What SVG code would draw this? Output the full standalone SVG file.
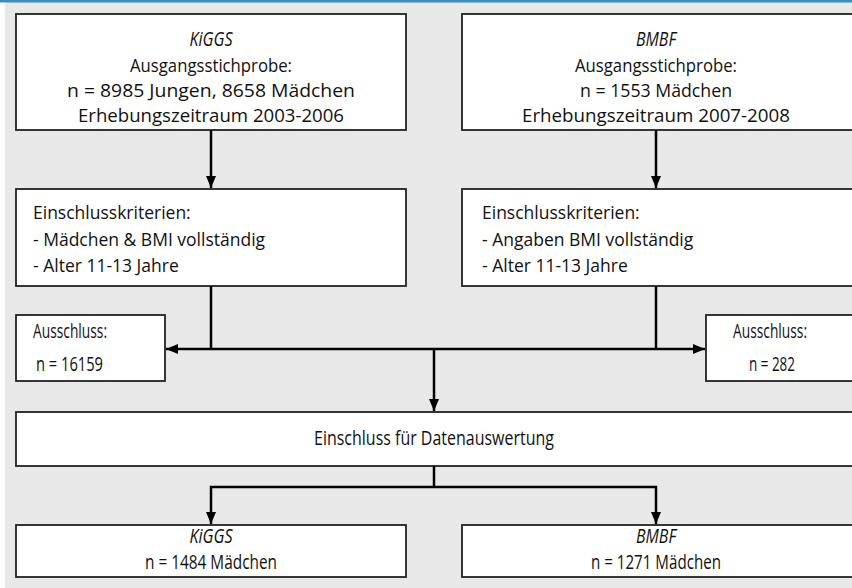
<svg xmlns="http://www.w3.org/2000/svg" width="852" height="588" viewBox="0 0 852 588">
<defs>
<style>
.box{fill:#fff;stroke:#222;stroke-width:1.8}
.t{font-family:"Open Sans","Liberation Sans",sans-serif;font-size:17.5px;fill:#111}
.k{font-size:18.5px}
.n{font-size:20.5px}
.c{text-anchor:middle}
.i{font-style:italic}
.ln{fill:none;stroke:#000;stroke-width:2.5}
</style>
<marker id="ah" viewBox="0 0 12 12" refX="12" refY="6" markerWidth="12" markerHeight="12" markerUnits="userSpaceOnUse" orient="auto">
<path d="M0,1 L12,6 L0,11 Z" fill="#000"/>
</marker>
</defs>
<rect x="0" y="0" width="852" height="588" fill="#fff"/>
<rect x="5" y="0" width="847" height="588" fill="#e7e8e7"/>
<rect x="0" y="0" width="852" height="2.5" fill="#3a8fc0"/>
<g id="kiggs-start">
<rect class="box" x="16" y="14" width="390" height="116"/>
<text class="t n c i" x="211" y="46" textLength="43" lengthAdjust="spacingAndGlyphs">KiGGS</text>
<text class="t k c" x="211" y="72" textLength="162" lengthAdjust="spacingAndGlyphs">Ausgangsstichprobe:</text>
<text class="t k c" x="211" y="97" textLength="288" lengthAdjust="spacingAndGlyphs">n = 8985 Jungen, 8658 Mädchen</text>
<text class="t k c" x="211" y="122" textLength="266" lengthAdjust="spacingAndGlyphs">Erhebungszeitraum 2003-2006</text>
</g>
<g id="bmbf-start">
<rect class="box" x="462" y="14" width="400" height="116"/>
<text class="t n c i" x="656" y="46" textLength="40" lengthAdjust="spacingAndGlyphs">BMBF</text>
<text class="t k c" x="656" y="72" textLength="162" lengthAdjust="spacingAndGlyphs">Ausgangsstichprobe:</text>
<text class="t k c" x="656" y="97" textLength="152" lengthAdjust="spacingAndGlyphs">n = 1553 Mädchen</text>
<text class="t k c" x="656" y="122" textLength="268" lengthAdjust="spacingAndGlyphs">Erhebungszeitraum 2007-2008</text>
</g>
<g id="kiggs-criteria">
<rect class="box" x="16" y="189" width="390" height="97"/>
<text class="t" x="33" y="219">Einschlusskriterien:</text>
<text class="t" x="33" y="246">- Mädchen &amp; BMI vollständig</text>
<text class="t" x="33" y="272">- Alter 11-13 Jahre</text>
</g>
<g id="bmbf-criteria">
<rect class="box" x="462" y="189" width="400" height="97"/>
<text class="t" x="482" y="219">Einschlusskriterien:</text>
<text class="t" x="482" y="246">- Angaben BMI vollständig</text>
<text class="t" x="482" y="272">- Alter 11-13 Jahre</text>
</g>
<g id="kiggs-exclusion">
<rect class="box" x="16" y="315" width="149" height="66"/>
<text class="t n" x="33" y="338" textLength="74" lengthAdjust="spacingAndGlyphs">Ausschluss:</text>
<text class="t n" x="36" y="371" textLength="67" lengthAdjust="spacingAndGlyphs">n = 16159</text>
</g>
<g id="bmbf-exclusion">
<rect class="box" x="706" y="315" width="156" height="66"/>
<text class="t n" x="733" y="338" textLength="74" lengthAdjust="spacingAndGlyphs">Ausschluss:</text>
<text class="t n" x="749" y="371" textLength="46" lengthAdjust="spacingAndGlyphs">n = 282</text>
</g>
<g id="inclusion">
<rect class="box" x="16" y="412" width="846" height="54"/>
<text class="t n c" x="434" y="445" textLength="240" lengthAdjust="spacingAndGlyphs">Einschluss für Datenauswertung</text>
</g>
<g id="kiggs-result">
<rect class="box" x="16" y="525" width="390" height="52"/>
<text class="t n c i" x="211" y="543" textLength="43" lengthAdjust="spacingAndGlyphs">KiGGS</text>
<text class="t n c" x="211" y="569" textLength="132" lengthAdjust="spacingAndGlyphs">n = 1484 Mädchen</text>
</g>
<g id="bmbf-result">
<rect class="box" x="462" y="525" width="400" height="52"/>
<text class="t n c i" x="656" y="543" textLength="40" lengthAdjust="spacingAndGlyphs">BMBF</text>
<text class="t n c" x="656" y="569" textLength="130" lengthAdjust="spacingAndGlyphs">n = 1271 Mädchen</text>
</g>
<g id="connectors">
<path class="ln" d="M211,130 V188" marker-end="url(#ah)"/>
<path class="ln" d="M656,130 V188" marker-end="url(#ah)"/>
<path class="ln" d="M211,286 V349"/>
<path class="ln" d="M656,286 V349"/>
<path class="ln" d="M434,349 H166" marker-end="url(#ah)"/>
<path class="ln" d="M434,349 H705" marker-end="url(#ah)"/>
<path class="ln" d="M434,349 V411" marker-end="url(#ah)"/>
<path class="ln" d="M434,466 V487"/>
<path class="ln" d="M434,487 H211 V524" marker-end="url(#ah)"/>
<path class="ln" d="M434,487 H656 V524" marker-end="url(#ah)"/>
</g>
</svg>
